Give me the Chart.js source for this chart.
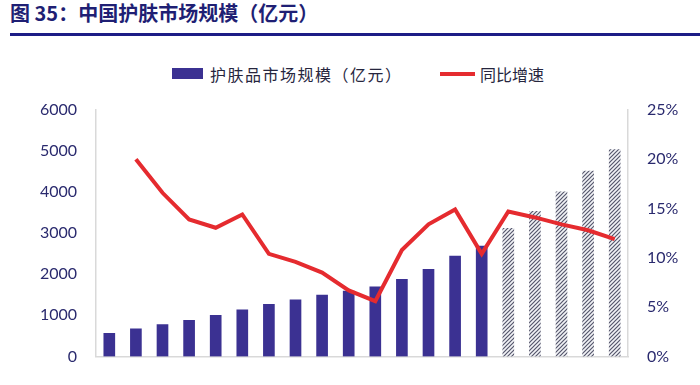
<!DOCTYPE html>
<html>
<head>
<meta charset="utf-8">
<script src="https://cdn.jsdelivr.net/npm/chart.js@4/dist/chart.umd.min.js"></script>
<style>
  html, body { margin: 0; padding: 0; background: #fff; }
  #wrap { position: relative; width: 700px; height: 385px; overflow: hidden; }
  #title { position: absolute; left: 10px; top: 0; font: 600 20px "Noto Sans CJK SC"; color: #1f1f74; line-height: 26px; white-space: nowrap; }
  #rule { position: absolute; left: 10px; right: 0; top: 33px; height: 3px; background: #1c1c86; }
  .lg { position: absolute; top: 64px; font: 16px "Noto Sans CJK SC"; color: #26263e; line-height: 20px; white-space: nowrap; }
  #lgBar { position: absolute; left: 172px; top: 68px; width: 31px; height: 11px; background: #3b3192; }
  #lgLine { position: absolute; left: 440px; top: 72px; width: 35px; height: 4px; background: #e52b2f; }
  canvas { position: absolute; left: 0; top: 0; }
</style>
</head>
<body>
<div id="wrap">
  <div id="title">图 35：中国护肤市场规模（亿元）</div>
  <div id="rule"></div>
  <div id="lgBar"></div>
  <div class="lg" style="left:210px; letter-spacing:1.5px;">护肤品市场规模（亿元）</div>
  <div id="lgLine"></div>
  <div class="lg" style="left:480px;">同比增速</div>
  <canvas id="chart" width="700" height="385"></canvas>
</div>
<script>
// categories (x labels are not shown in the picture)
const years = ["2006", "2007", "2008", "2009", "2010", "2011", "2012", "2013", "2014", "2015",
               "2016", "2017", "2018", "2019", "2020", "2021E", "2022E", "2023E", "2024E", "2025E"];
// market size, 亿元
const marketSize = [560, 670, 776, 881, 1001, 1137, 1265, 1378, 1491, 1590,
                    1694, 1875, 2123, 2440, 2688, 3117, 3532, 4006, 4511, 5038];
// yoy growth, %
const growth = [null, 20.0, 16.6, 13.9, 13.05, 14.4, 10.4, 9.6, 8.5, 6.7,
                5.6, 10.8, 13.4, 14.9, 10.4, 14.7, 14.1, 13.4, 12.8, 11.9];
const leftTicks = [0, 1000, 2000, 3000, 4000, 5000, 6000];
const rightTicks = [0, 5, 10, 15, 20, 25];

// hatch for forecast bars
const tile = document.createElement("canvas");
tile.width = 4; tile.height = 4;
const tc = tile.getContext("2d");
tc.fillStyle = "#f2f3f7";
tc.fillRect(0, 0, 4, 4);
tc.strokeStyle = "#55576c";
tc.lineWidth = 1.2;
tc.beginPath();
tc.moveTo(-1, 5); tc.lineTo(5, -1);
tc.moveTo(-1, 1); tc.lineTo(1, -1);
tc.moveTo(3, 5); tc.lineTo(5, 3);
tc.stroke();
const hatch = tc.createPattern(tile, "repeat");

const barColors = years.map(y => y.endsWith("E") ? hatch : "#3b3192");

const tickFont = { family: "Lato", size: 16 };
const tickColor = "#2a2a6e";
const axisLine = { display: true, color: "#d9d9d9", width: 1.5 };

new Chart(document.getElementById("chart"), {
    data: {
        labels: years,
        datasets: [{
            type: "line",
            label: "同比增速",
            data: growth,
            yAxisID: "y1",
            borderColor: "#e52b2f",
            borderWidth: 4,
            pointRadius: 0,
            tension: 0,
            order: 0
        }, {
            type: "bar",
            label: "护肤品市场规模（亿元）",
            data: marketSize,
            yAxisID: "y",
            backgroundColor: barColors,
            barThickness: 11,
            order: 1
        }]
    },
    options: {
        responsive: false,
        animation: false,
        devicePixelRatio: 1,
        layout: { padding: { top: 110, left: 0, right: 0, bottom: 0 } },
        plugins: { legend: { display: false }, tooltip: { enabled: false } },
        scales: {
            x: {
                grid: { display: false, drawTicks: false },
                border: axisLine,
                ticks: { display: false },
                afterFit: s => { s.height = 9; }
            },
            y: {
                position: "left",
                min: 0, max: 6000,
                afterBuildTicks: s => { s.ticks = leftTicks.map(v => ({ value: v })); },
                grid: { display: false, drawTicks: false },
                border: axisLine,
                ticks: { font: tickFont, color: tickColor, padding: 19, callback: v => String(v) },
                afterFit: s => { s.width = 96; }
            },
            y1: {
                position: "right",
                min: 0, max: 25,
                afterBuildTicks: s => { s.ticks = rightTicks.map(v => ({ value: v })); },
                grid: { display: false, drawTicks: false },
                border: axisLine,
                ticks: { font: tickFont, color: tickColor, padding: 19, callback: v => v + "%" },
                afterFit: s => { s.width = 72; }
            }
        }
    }
});
</script>
</body>
</html>
